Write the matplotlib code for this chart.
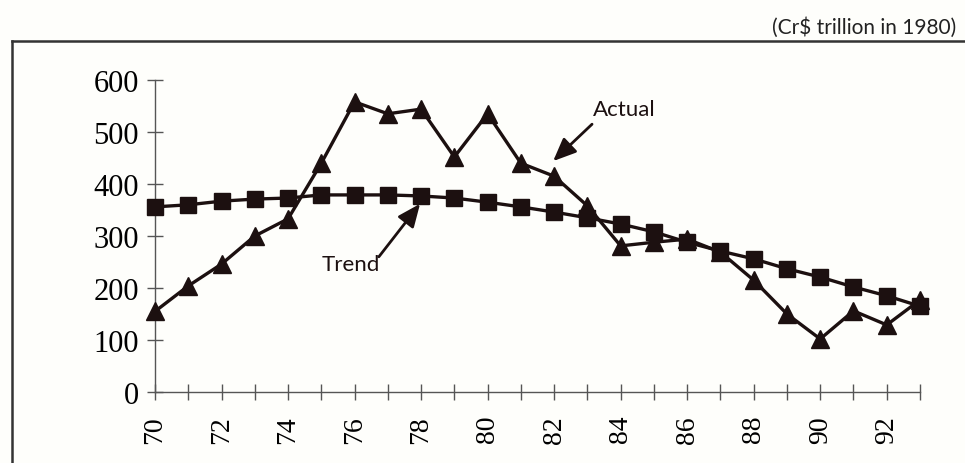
import matplotlib
matplotlib.use("Agg")
import matplotlib.pyplot as plt
from matplotlib.lines import Line2D

years = list(range(70, 94))
actual = [155, 204, 246, 300, 333, 440, 558, 535, 544, 452, 535, 440, 415, 358,
          281, 288, 294, 269, 215, 150, 102, 156, 129, 177]
trend = [356, 360, 367, 371, 373, 379, 379, 379, 377, 373, 365, 356, 346, 335,
         323, 308, 288, 271, 256, 237, 221, 202, 185, 165]
yticks = [0, 100, 200, 300, 400, 500, 600]
xticks = list(range(70, 94))
xlabels = [str(y) if y % 2 == 0 else "" for y in xticks]

W, H = 965, 464
bg = "#fefefb"
ink = "#1c1010"
fig = plt.figure(figsize=(W / 100, H / 100), dpi=100, facecolor=bg)
ax = fig.add_axes([155 / W, (H - 393) / H, (920 - 155) / W, 312 / H])
ax.set_facecolor(bg)

ax.plot(years, actual, color=ink, lw=2.4, marker="^", ms=13.5, mfc=ink, mec=ink,
        clip_on=False, zorder=3)
ax.plot(years, trend, color=ink, lw=2.4, marker="s", ms=12, mfc=ink, mec=ink,
        clip_on=False, zorder=4)

ax.set_xlim(70, 93)
ax.set_ylim(0, 600)
for s in ["top", "right"]:
    ax.spines[s].set_visible(False)
for s in ["left", "bottom"]:
    ax.spines[s].set_color("#555555")
    ax.spines[s].set_linewidth(1.0)

ax.set_yticks(yticks)
ax.set_yticklabels([str(v) for v in yticks], family="Liberation Serif", fontsize=22)
ax.set_xticks(xticks)
ax.set_xticklabels(xlabels, family="Liberation Serif", fontsize=20, rotation=90)
ax.tick_params(axis="y", direction="inout", length=11, width=1, color="#555555", pad=6)
ax.tick_params(axis="x", direction="inout", length=11, width=1, color="#555555", pad=11)

sans = ["Lato", "DejaVu Sans"]
ax.text(83.17, 544, "Actual", family=sans, fontsize=16, ha="left", va="center", color=ink)
ax.annotate("", xy=(81.97, 444), xytext=(83.14, 515),
            arrowprops=dict(arrowstyle="-|>,head_length=1.4,head_width=0.6",
                            color=ink, lw=2.0, shrinkA=0, shrinkB=0))
ax.text(75.9, 246, "Trend", family=sans, fontsize=16, ha="center", va="center", color=ink)
ax.annotate("", xy=(77.97, 362), xytext=(76.73, 260),
            arrowprops=dict(arrowstyle="-|>,head_length=1.4,head_width=0.6",
                            color=ink, lw=2.0, shrinkA=0, shrinkB=0))

fig.text(956 / W, 1 - 34 / H, "(Cr$ trillion in 1980)", family=sans, fontsize=15,
         ha="right", va="baseline", color="#222222")

ytop = 1 - 42 / H
xl = 12 / W
fig.add_artist(Line2D([xl, 1.0], [ytop, ytop], transform=fig.transFigure,
                      color="#333333", lw=1.8))
fig.add_artist(Line2D([xl, xl], [0, ytop], transform=fig.transFigure,
                      color="#333333", lw=1.8))

fig.savefig("out.png", dpi=100, facecolor=bg)
